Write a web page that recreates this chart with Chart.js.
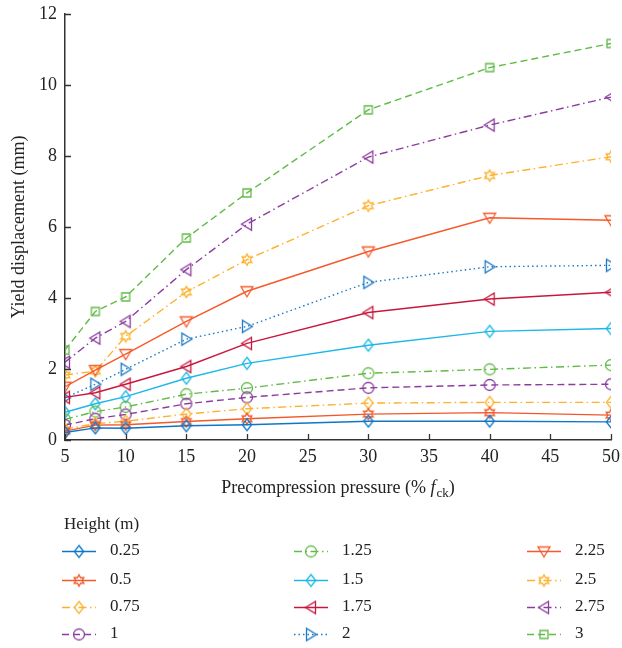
<!DOCTYPE html>
<html>
<head>
<meta charset="utf-8">
<script src="https://cdn.jsdelivr.net/npm/chart.js@4.4.0/dist/chart.umd.min.js"></script>
<style>
  body { margin: 0; background: #fff; }
</style>
</head>
<body>
<canvas id="myChart" width="622" height="648"></canvas>
<script>
// precompression pressure (% fck)
var pressure = [5, 7.5, 10, 15, 20, 30, 40, 50];
var heights = ["0.25", "0.5", "0.75", "1", "1.25", "1.5", "1.75", "2", "2.25", "2.5", "2.75", "3"];

// yield displacement (mm) for each wall height
var h025 = [0.21, 0.34, 0.33, 0.40, 0.43, 0.53, 0.53, 0.51];
var h050 = [0.25, 0.42, 0.43, 0.52, 0.60, 0.73, 0.77, 0.70];
var h075 = [0.31, 0.46, 0.53, 0.73, 0.88, 1.04, 1.06, 1.06];
var h100 = [0.42, 0.60, 0.72, 1.02, 1.20, 1.47, 1.55, 1.57];
var h125 = [0.58, 0.80, 0.93, 1.29, 1.46, 1.88, 1.99, 2.11];
var h150 = [0.78, 1.02, 1.22, 1.74, 2.16, 2.67, 3.06, 3.14];
var h175 = [1.20, 1.33, 1.57, 2.07, 2.72, 3.59, 3.97, 4.16];
var h200 = [1.19, 1.57, 1.99, 2.84, 3.20, 4.44, 4.88, 4.92];
var h225 = [1.50, 1.97, 2.42, 3.34, 4.19, 5.31, 6.26, 6.19];
var h250 = [1.83, 1.94, 2.92, 4.17, 5.08, 6.60, 7.45, 7.98];
var h275 = [2.19, 2.87, 3.34, 4.80, 6.08, 7.97, 8.87, 9.66];
var h300 = [2.53, 3.62, 4.03, 5.69, 6.96, 9.30, 10.49, 11.17];

var values = [h025, h050, h075, h100, h125, h150, h175, h200, h225, h250, h275, h300];

var DASH = [7, 4];
var DASHDOT = [8, 3.5, 1.5, 3.5];
var DOT = [1.5, 3];
var SOLID = [];

var looks = [
  { color: "#0F76C6", dash: SOLID,   marker: "diamond" },
  { color: "#F2582B", dash: SOLID,   marker: "hexagram" },
  { color: "#FDB12C", dash: DASHDOT, marker: "diamond" },
  { color: "#8B3D9F", dash: DASH,    marker: "circle" },
  { color: "#62BB47", dash: DASHDOT, marker: "circle" },
  { color: "#1DB7E8", dash: SOLID,   marker: "diamond" },
  { color: "#C8173D", dash: SOLID,   marker: "triLeft" },
  { color: "#1A78C6", dash: DOT,     marker: "triRight" },
  { color: "#F65A2A", dash: SOLID,   marker: "triDown" },
  { color: "#FDB12C", dash: DASHDOT, marker: "hexagram" },
  { color: "#8B3D9F", dash: DASHDOT, marker: "triLeft" },
  { color: "#62BB47", dash: DASH,    marker: "square" }
];

var FONT = "'Liberation Serif', 'DejaVu Serif', serif";
var INK = "#222";

// hollow marker drawn once onto a small canvas, used as pointStyle
function makeMarker(shape, color) {
  var c = document.createElement("canvas");
  c.width = 18; c.height = 18;
  var g = c.getContext("2d");
  g.translate(9, 9);
  g.strokeStyle = color;
  g.lineWidth = 1.3;
  g.beginPath();
  if (shape == "diamond") {
    g.moveTo(0, -6); g.lineTo(4.6, 0); g.lineTo(0, 6); g.lineTo(-4.6, 0); g.closePath();
  } else if (shape == "circle") {
    g.arc(0, 0, 5.5, 0, Math.PI * 2);
  } else if (shape == "square") {
    g.rect(-4, -4, 8, 8);
  } else if (shape == "triDown") {
    g.moveTo(-6, -4.5); g.lineTo(6, -4.5); g.lineTo(0, 5.5); g.closePath();
  } else if (shape == "triLeft") {
    g.moveTo(-5.5, 0); g.lineTo(4.5, -6); g.lineTo(4.5, 6); g.closePath();
  } else if (shape == "triRight") {
    g.moveTo(5.5, 0); g.lineTo(-4.5, -6); g.lineTo(-4.5, 6); g.closePath();
  } else if (shape == "hexagram") {
    for (var k = 0; k < 12; k++) {
      var r = k % 2 ? 3.2 : 5.6;
      var a = -Math.PI / 2 + k * Math.PI / 6;
      if (k == 0) g.moveTo(r * Math.cos(a), r * Math.sin(a));
      else g.lineTo(r * Math.cos(a), r * Math.sin(a));
    }
    g.closePath();
  }
  g.stroke();
  return c;
}

var datasets = heights.map(function (h, i) {
  var lk = looks[i];
  return {
    label: h,
    data: pressure.map(function (p, j) { return { x: p, y: values[i][j] }; }),
    borderColor: lk.color,
    borderWidth: 1.4,
    borderDash: lk.dash,
    pointStyle: makeMarker(lk.marker, lk.color),
    pointRadius: 5,
    tension: 0,
    fill: false
  };
});

// ticks pointing into the plot area
const innerTicks = {
  id: "innerTicks",
  afterDraw(chart) {
    const ctx = chart.ctx;
    const xs = chart.scales.x, ys = chart.scales.y;
    ctx.save();
    ctx.strokeStyle = "#333";
    ctx.lineWidth = 1.3;
    ctx.beginPath();
    xs.ticks.forEach(function (t) {
      const px = Math.round(xs.getPixelForValue(t.value)) + 0.5;
      ctx.moveTo(px, ys.bottom); ctx.lineTo(px, ys.bottom - 6);
    });
    ys.ticks.forEach(function (t) {
      const py = Math.round(ys.getPixelForValue(t.value)) + 0.5;
      ctx.moveTo(xs.left, py); ctx.lineTo(xs.left + 6, py);
    });
    ctx.stroke();

    // x axis title with italic f and subscript ck
    const a = "Precompression pressure (% ", f = "f", sub = "ck", b = ")";
    ctx.fillStyle = INK;
    ctx.textBaseline = "alphabetic";
    ctx.font = "18px " + FONT;
    const wa = ctx.measureText(a).width, wb = ctx.measureText(b).width;
    ctx.font = "italic 18px " + FONT;
    const wf = ctx.measureText(f).width;
    ctx.font = "13px " + FONT;
    const ws = ctx.measureText(sub).width;
    let x = (xs.left + xs.right) / 2 - (wa + wf + ws + wb + 1) / 2;
    const y = 493;
    ctx.font = "18px " + FONT; ctx.fillText(a, x, y); x += wa;
    ctx.font = "italic 18px " + FONT; ctx.fillText(f, x, y); x += wf + 1;
    ctx.font = "13px " + FONT; ctx.fillText(sub, x, y + 4); x += ws;
    ctx.font = "18px " + FONT; ctx.fillText(b, x, y);
    ctx.restore();
  }
};

// three-column legend under the plot
const heightLegend = {
  id: "heightLegend",
  afterDraw(chart) {
    const ctx = chart.ctx;
    const cols = [62, 294, 527];
    const rows = [551, 580, 607, 634];
    ctx.save();
    ctx.fillStyle = INK;
    ctx.textBaseline = "middle";
    ctx.font = "17px " + FONT;
    ctx.fillText("Height (m)", 64, 525);
    chart.data.datasets.forEach(function (ds, i) {
      const x0 = cols[Math.floor(i / 4)], y0 = rows[i % 4] + 0.5;
      ctx.strokeStyle = ds.borderColor;
      ctx.lineWidth = ds.borderWidth;
      ctx.setLineDash(ds.borderDash);
      ctx.beginPath();
      ctx.moveTo(x0, y0); ctx.lineTo(x0 + 34, y0);
      ctx.stroke();
      ctx.setLineDash([]);
      const m = ds.pointStyle;
      ctx.drawImage(m, x0 + 17 - m.width / 2, y0 - m.height / 2);
      ctx.fillStyle = INK;
      ctx.fillText(ds.label, x0 + 48, rows[i % 4]);
    });
    ctx.restore();
  }
};

// let the layout padding alone decide the plot box edges
function noLabelPadding(s) {
  s.paddingTop = 0; s.paddingRight = 0; s.paddingLeft = 0; s.paddingBottom = 0;
}

new Chart("myChart", {
  type: "line",
  data: { datasets: datasets },
  options: {
    responsive: false,
    animation: false,
    devicePixelRatio: 1,
    layout: { padding: { top: 14, right: 11, left: 0, bottom: 0 } },
    plugins: { legend: { display: false }, tooltip: { enabled: false } },
    scales: {
      x: {
        type: "linear", min: 5, max: 50,
        ticks: { stepSize: 5, color: INK, font: { family: FONT, size: 18 }, padding: 6 },
        grid: { display: false, drawTicks: false },
        border: { display: true, color: "#333", width: 1.5 },
        afterFit: function (s) { s.height = 208; noLabelPadding(s); }
      },
      y: {
        min: 0, max: 12,
        ticks: { stepSize: 2, color: INK, font: { family: FONT, size: 18 }, padding: 8 },
        grid: { display: false, drawTicks: false },
        border: { display: true, color: "#333", width: 1.5 },
        title: { display: true, text: "Yield displacement (mm)", color: INK, font: { family: FONT, size: 18 }, padding: { top: 8, bottom: 0 } },
        afterFit: function (s) { s.width = 65; noLabelPadding(s); }
      }
    }
  },
  plugins: [innerTicks, heightLegend]
});
</script>
</body>
</html>
